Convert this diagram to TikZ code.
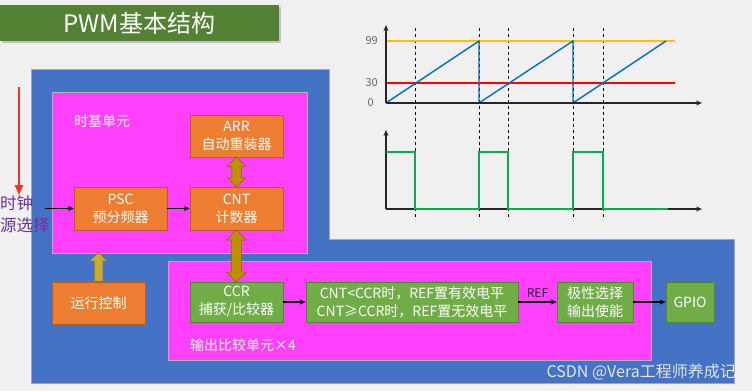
\documentclass[tikz,border=0pt]{standalone}
\usepackage{fontspec}
\usepackage{xcolor}
\usepackage{tikz}
\usetikzlibrary{shapes.arrows, arrows.meta, positioning, shadows, calc}
\newfontfamily\cjkfont{Noto Sans CJK SC}
\definecolor{bggray}{RGB}{240, 240, 240}
\definecolor{titlegreen}{RGB}{84, 130, 53}
\definecolor{panelblue}{RGB}{68, 114, 196}
\definecolor{unitpink}{RGB}{255, 64, 255}
\definecolor{boxorange}{RGB}{237, 125, 49}
\definecolor{boxgreen}{RGB}{112, 173, 71}
\definecolor{arrowgold}{RGB}{191, 144, 0}
\definecolor{runolive}{RGB}{201, 170, 52}
\definecolor{clkpurple}{RGB}{112, 48, 160}
\definecolor{clkred}{RGB}{240, 50, 50}
\definecolor{reftext}{RGB}{60, 10, 80}
\definecolor{levelyellow}{RGB}{255, 192, 0}
\definecolor{sawblue}{RGB}{0, 112, 192}
\definecolor{pwmgreen}{RGB}{0, 176, 80}

\tikzset{
  orangebox/.style={draw=boxorange!75!black, fill=boxorange, text=white, align=center,
    minimum width=93pt, minimum height=42pt, inner sep=0pt, line width=0.6pt,
    font=\cjkfont\fontsize{14}{18}\selectfont},
  greenbox/.style={orangebox, draw=boxgreen!75!black, fill=boxgreen, minimum height=40pt},
  unitbox/.style={fill=unitpink, draw=gray!60, line width=0.5pt, inner sep=0pt},
  unitlabel/.style={anchor=west, text=white, inner sep=0pt, font=\cjkfont\fontsize{14}{18}\selectfont},
  dblarrow/.style={double arrow, rotate=90, fill=arrowgold, draw=arrowgold!70!black,
    line width=0.5pt, inner sep=4.5pt, double arrow head extend=4.5pt},
  uparrow/.style={single arrow, rotate=90, fill=runolive, draw=runolive!70!black,
    line width=0.5pt, inner sep=4pt, single arrow head extend=4.5pt},
  flow/.style={-{Stealth[length=6pt, width=5pt]}, line width=1.2pt},
  axis/.style={-{Stealth[length=6pt, width=5pt]}, line width=1.3pt, black!85},
  axlabel/.style={anchor=east, text=black!60, inner sep=0pt, font=\cjkfont\fontsize{11}{13}\selectfont}
}

\begin{document}
\begin{tikzpicture}[x=1pt, y=-1pt, font=\cjkfont]
    \useasboundingbox (0,0) rectangle (752,391);
    \fill[bggray] (0,0) rectangle (752,391);

    % Title
    \node[fill=titlegreen, text=white, minimum width=279pt, minimum height=36pt,
          drop shadow={shadow xshift=2pt, shadow yshift=-2pt, opacity=0.4},
          font=\cjkfont\fontsize{24}{28}\selectfont] (title) at (139.5,23) {PWM基本结构};

    % Blue panel
    \filldraw[fill=panelblue, draw=gray!70, line width=0.5pt]
        (31,69) -- (329,69) -- (329,239) -- (734,239) -- (734,383) -- (31,383) -- cycle;

    % Time base unit
    \node[unitbox, minimum width=255pt, minimum height=161pt] (tb) at (179.5,172.5) {};
    \node[unitlabel] (tblabel) at (74,121) {时基单元};
    \node[orangebox] (arr) at (236.5,136) {ARR\\自动重装器};
    \node[orangebox, minimum height=43pt] (cnt) at (236.5,208.5) {CNT\\计数器};
    \node[orangebox, minimum height=43pt] (psc) at (120.5,208.5) {PSC\\预分频器};

    % Output compare unit
    \node[unitbox, minimum width=483pt, minimum height=99pt] (oc) at (409.5,310.5) {};
    \node[unitlabel] (oclabel) at (190,345) {输出比较单元×4};
    \node[greenbox] (ccr) at (236.5,302) {CCR\\捕获/比较器};
    \node[greenbox, minimum width=212pt] (cmp) at (412,302) {CNT<CCR时，REF置有效电平\\CNT≥CCR时，REF置无效电平};
    \node[greenbox, minimum width=76pt] (pol) at (595,302) {极性选择\\输出使能};
    \node[greenbox, minimum width=48pt] (gpio) at (690,302) {GPIO};

    % Run control
    \node[orangebox] (run) at (98.5,303) {运行控制};
    \node[uparrow, minimum height=29pt, minimum width=17pt, anchor=tail] (runup) at (run.north) {};

    % Block arrows
    \node[dblarrow, minimum height=30pt, minimum width=16pt] (arrcnt) at ($(arr.south)!0.5!(cnt.north)$) {};
    \node[dblarrow, minimum height=52pt, minimum width=20pt] (cntccr) at ($(cnt.south)!0.5!(ccr.north)$) {};

    % Clock source
    \node[anchor=west, align=left, inner sep=0pt, text=clkpurple,
          font=\cjkfont\fontsize{16.5}{22}\selectfont] (clk) at (0,214) {时钟\\源选择};
    \coordinate (clktop) at (19,87);
    \coordinate (clkout) at (45,208.5);
    \draw[clkred, line width=2pt, -{Triangle[length=10pt, width=8pt]}] (clktop) -- (clktop |- clk.north);
    \draw[flow] (clkout) -- (psc.west);

    % Signal flow
    \draw[flow] (psc) -- (cnt);
    \draw[flow] (ccr) -- (cmp);
    \draw[flow] (cmp) -- node[above=1pt, text=reftext, font=\cjkfont\fontsize{12}{14}\selectfont] (ref) {REF} (pol);
    \draw[flow] (pol) -- (gpio);

    % Counter plot
    \foreach \x in {415, 479, 508, 573, 603}
        \draw[dashed, line width=0.8pt] (\x,28) -- (\x,220);
    \draw[levelyellow, line width=1.5pt] (386,41) -- (675,41);
    \draw[red, line width=1.5pt] (386,83) -- (675,83);
    \draw[sawblue, line width=1.4pt] (386,103) -- (479,41) -- (479,103) -- (573,41) -- (573,103) -- (666,41);
    \draw[axis] (386,103) -- (702,103);
    \draw[axis] (386,103) -- (386,25);
    \node[axlabel] (l99) at (378,41) {99};
    \node[axlabel] (l30) at (378,83) {30};
    \node[axlabel] (l0) at (374,103) {0};

    % PWM output
    \draw[axis] (386,209) -- (702,209);
    \draw[axis] (386,209) -- (386,130);
    \draw[pwmgreen, line width=1.5pt] (386,152) -- (415,152) -- (415,209) -- (479,209) -- (479,152)
        -- (508,152) -- (508,209) -- (573,209) -- (573,152) -- (603,152) -- (603,209) -- (668,209);

    % Watermark
    \node[anchor=east, text=gray!20, inner sep=0pt, font=\cjkfont\fontsize{16}{18}\selectfont] (mark) at (736,372) {CSDN @Vera工程师养成记};
\end{tikzpicture}
\end{document}
